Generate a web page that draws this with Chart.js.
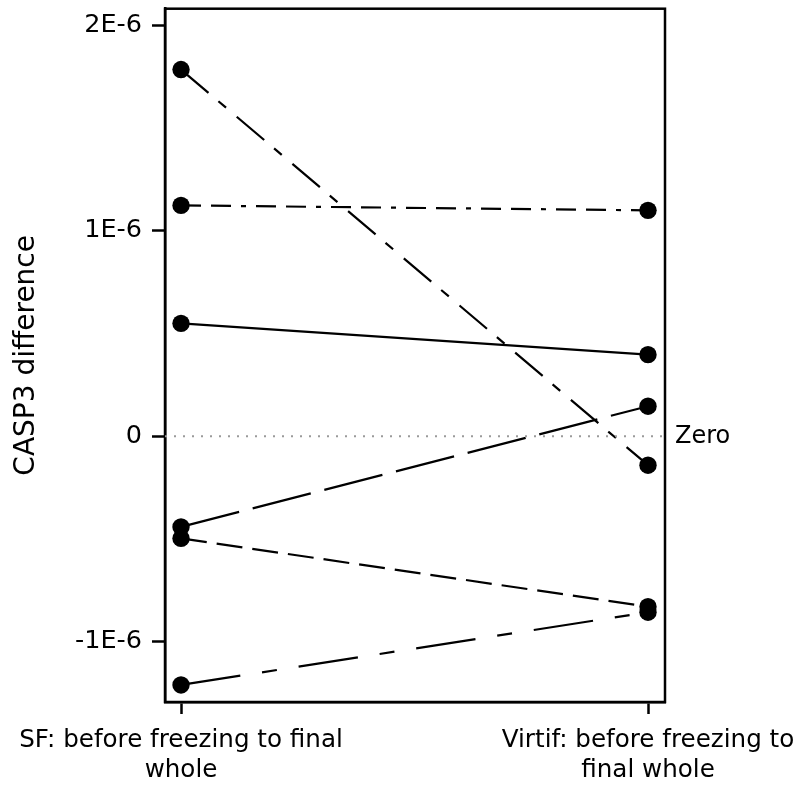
<!DOCTYPE html>
<html>
<head>
<meta charset="utf-8">
<script src="https://cdn.jsdelivr.net/npm/chart.js@4/dist/chart.umd.min.js"></script>
<style>
  body { margin: 0; background: #fff; }
</style>
</head>
<body>
<canvas id="chart" width="794" height="786"></canvas>
<script>
// x positions of the two comparisons and their labels
const xPositions = [0, 1];
const xLabels = [['SF: before freezing to final', 'whole'], ['Virtif: before freezing to', 'final whole']];

// one pair per sample (left value, right value)
const sample1 = [1.784e-6, -0.141e-6];
const sample2 = [1.123e-6, 1.099e-6];
const sample3 = [0.549e-6, 0.397e-6];
const sample4 = [-0.441e-6, 0.146e-6];
const sample5 = [-0.497e-6, -0.829e-6];
const sample6 = [-1.210e-6, -0.856e-6];

const yTicks = [-1e-6, 0, 1e-6, 2e-6];
const yTickLabels = ['-1E-6', '0', '1E-6', '2E-6'];
const refValue = 0;
const refLabel = 'Zero';

const FONT = 'DejaVu Sans';
const xMin = -0.0343, xMax = 1.0364;

const toPoints = (vals) => vals.map((v, i) => ({ x: xPositions[i], y: v }));

const lineSet = (vals, dash) => ({
  data: toPoints(vals),
  borderColor: '#000',
  backgroundColor: '#000',
  borderWidth: 2.2,
  borderDash: dash,
  pointRadius: 8.7,
  pointBorderWidth: 0,
  pointBackgroundColor: '#000',
  tension: 0,
});

const boxAndRef = {
  id: 'boxAndRef',
  beforeDatasetsDraw(chart) {
    const { ctx, chartArea: a } = chart;
    ctx.save();
    ctx.strokeStyle = '#000';
    ctx.lineWidth = 2.5;
    ctx.strokeRect(a.left, a.top, a.right - a.left, a.bottom - a.top);
    ctx.restore();
  },
  afterDraw(chart) {
    const { ctx, chartArea: a } = chart;
    const y = chart.scales.y.getPixelForValue(refValue);
    ctx.save();
    ctx.fillStyle = '#000';
    ctx.font = '24px "' + FONT + '"';
    ctx.textBaseline = 'middle';
    ctx.fillText(refLabel, a.right + 10, y + 1);
    ctx.restore();
  }
};

new Chart(document.getElementById('chart'), {
  type: 'line',
  data: {
    datasets: [
      {
        data: [{ x: xMin, y: refValue }, { x: xMax, y: refValue }],
        borderColor: '#9a9a9a',
        borderWidth: 2,
        borderDash: [2, 7],
        pointRadius: 0,
      },
      lineSet(sample1, [36, 13, 10, 14]),
      lineSet(sample2, [20, 10, 20, 10, 5, 10]),
      lineSet(sample3, []),
      lineSet(sample4, [60, 14]),
      lineSet(sample5, [26, 10]),
      lineSet(sample6, [60, 22, 15, 22]),
    ]
  },
  options: {
    responsive: false,
    animation: false,
    layout: { padding: { top: 8, right: 129, left: 0, bottom: 0 } },
    plugins: { legend: { display: false }, tooltip: { enabled: false } },
    scales: {
      x: {
        type: 'linear',
        min: xMin,
        max: xMax,
        afterBuildTicks: (s) => { s.ticks = xPositions.map(v => ({ value: v })); },
        afterFit: (s) => { s.height = 84; s.paddingLeft = 0; s.paddingRight = 0; },
        ticks: {
          color: '#000',
          font: { family: FONT, size: 24.6, lineHeight: 1.22 },
          padding: 12,
          maxRotation: 0,
          autoSkip: false,
          callback: (v) => xLabels[xPositions.indexOf(v)],
        },
        grid: { drawOnChartArea: false, drawTicks: true, tickLength: 12, tickWidth: 2.5, color: '#000' },
        border: { display: true, color: '#000', width: 2.5 },
      },
      y: {
        min: -1.293e-6,
        max: 2.08e-6,
        afterBuildTicks: (s) => { s.ticks = yTicks.map(v => ({ value: v })); },
        afterFit: (s) => { s.width = 165; s.paddingTop = 0; s.paddingBottom = 0; },
        ticks: {
          color: '#000',
          font: { family: FONT, size: 25.5 },
          padding: 10,
          callback: (v) => yTickLabels[yTicks.indexOf(v)],
        },
        title: {
          display: true,
          text: 'CASP3 difference',
          color: '#000',
          font: { family: FONT, size: 28, lineHeight: 1.2 },
          padding: { top: 10, bottom: 0 },
        },
        grid: { drawOnChartArea: false, drawTicks: true, tickLength: 13, tickWidth: 2.5, color: '#000' },
        border: { display: true, color: '#000', width: 2.5 },
      }
    }
  },
  plugins: [boxAndRef]
});
</script>
</body>
</html>
